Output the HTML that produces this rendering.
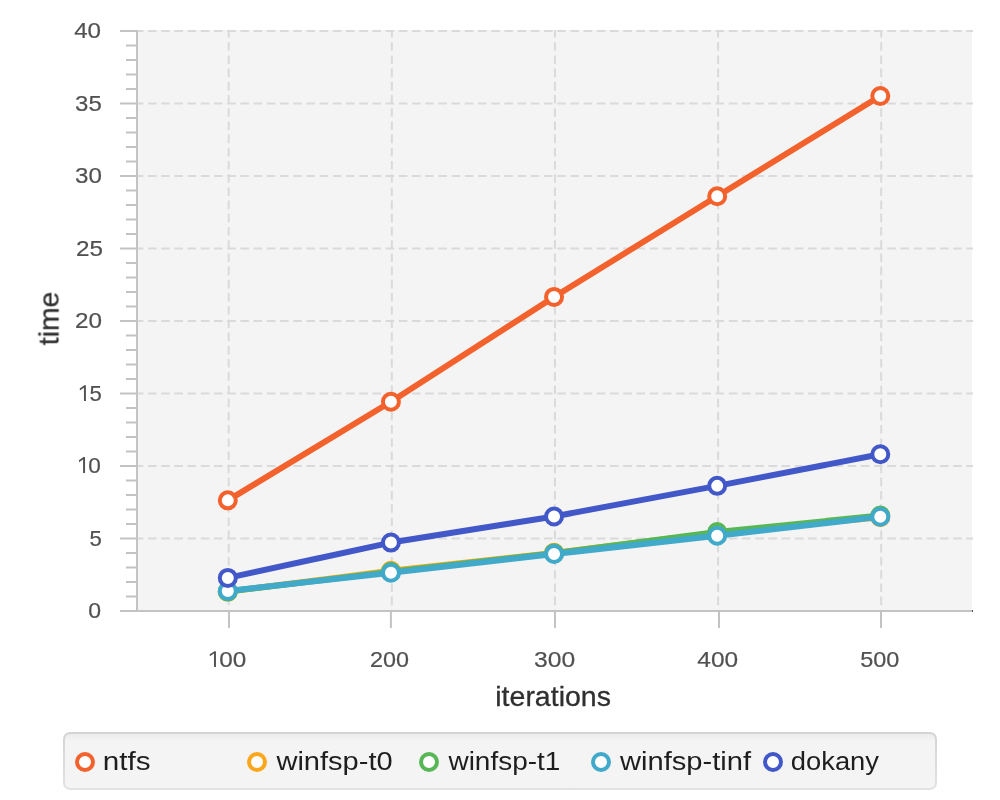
<!DOCTYPE html><html><head><meta charset="utf-8"><style>html,body{margin:0;padding:0;background:#fff;width:1000px;height:800px;overflow:hidden}svg{display:block}text{font-family:"Liberation Sans",sans-serif}</style></head><body>
<svg width="1000" height="800" viewBox="0 0 1000 800">
<rect x="138" y="30" width="834" height="580" fill="#f4f4f4"/>
<line x1="138" y1="538.50" x2="973" y2="538.50" stroke="#dadada" stroke-width="2" stroke-dasharray="8.6 4.6" stroke-dashoffset="3.2"/>
<line x1="138" y1="466.00" x2="973" y2="466.00" stroke="#dadada" stroke-width="2" stroke-dasharray="8.6 4.6" stroke-dashoffset="3.2"/>
<line x1="138" y1="393.50" x2="973" y2="393.50" stroke="#dadada" stroke-width="2" stroke-dasharray="8.6 4.6" stroke-dashoffset="3.2"/>
<line x1="138" y1="321.00" x2="973" y2="321.00" stroke="#dadada" stroke-width="2" stroke-dasharray="8.6 4.6" stroke-dashoffset="3.2"/>
<line x1="138" y1="248.50" x2="973" y2="248.50" stroke="#dadada" stroke-width="2" stroke-dasharray="8.6 4.6" stroke-dashoffset="3.2"/>
<line x1="138" y1="176.00" x2="973" y2="176.00" stroke="#dadada" stroke-width="2" stroke-dasharray="8.6 4.6" stroke-dashoffset="3.2"/>
<line x1="138" y1="103.50" x2="973" y2="103.50" stroke="#dadada" stroke-width="2" stroke-dasharray="8.6 4.6" stroke-dashoffset="3.2"/>
<line x1="138" y1="31.00" x2="973" y2="31.00" stroke="#dadada" stroke-width="2" stroke-dasharray="8.6 4.6" stroke-dashoffset="3.2"/>
<line x1="228.70" y1="30" x2="228.70" y2="610" stroke="#dadada" stroke-width="2" stroke-dasharray="8.6 4.6" stroke-dashoffset="1"/>
<line x1="391.82" y1="30" x2="391.82" y2="610" stroke="#dadada" stroke-width="2" stroke-dasharray="8.6 4.6" stroke-dashoffset="1"/>
<line x1="554.95" y1="30" x2="554.95" y2="610" stroke="#dadada" stroke-width="2" stroke-dasharray="8.6 4.6" stroke-dashoffset="1"/>
<line x1="718.08" y1="30" x2="718.08" y2="610" stroke="#dadada" stroke-width="2" stroke-dasharray="8.6 4.6" stroke-dashoffset="1"/>
<line x1="881.20" y1="30" x2="881.20" y2="610" stroke="#dadada" stroke-width="2" stroke-dasharray="8.6 4.6" stroke-dashoffset="1"/>
<rect x="136" y="30" width="2" height="582" fill="#c3c3c3"/>
<rect x="120" y="610" width="853" height="2" fill="#c3c3c3"/>
<rect x="972" y="610" width="1" height="2" fill="#555"/>
<rect x="120" y="610.00" width="16" height="2" fill="#c3c3c3"/>
<rect x="120" y="537.50" width="16" height="2" fill="#c3c3c3"/>
<rect x="120" y="465.00" width="16" height="2" fill="#c3c3c3"/>
<rect x="120" y="392.50" width="16" height="2" fill="#c3c3c3"/>
<rect x="120" y="320.00" width="16" height="2" fill="#c3c3c3"/>
<rect x="120" y="247.50" width="16" height="2" fill="#c3c3c3"/>
<rect x="120" y="175.00" width="16" height="2" fill="#c3c3c3"/>
<rect x="120" y="102.50" width="16" height="2" fill="#c3c3c3"/>
<rect x="120" y="30.00" width="16" height="2" fill="#c3c3c3"/>
<rect x="126" y="595.50" width="10" height="2" fill="#c3c3c3"/>
<rect x="126" y="581.00" width="10" height="2" fill="#c3c3c3"/>
<rect x="126" y="566.50" width="10" height="2" fill="#c3c3c3"/>
<rect x="126" y="552.00" width="10" height="2" fill="#c3c3c3"/>
<rect x="126" y="523.00" width="10" height="2" fill="#c3c3c3"/>
<rect x="126" y="508.50" width="10" height="2" fill="#c3c3c3"/>
<rect x="126" y="494.00" width="10" height="2" fill="#c3c3c3"/>
<rect x="126" y="479.50" width="10" height="2" fill="#c3c3c3"/>
<rect x="126" y="450.50" width="10" height="2" fill="#c3c3c3"/>
<rect x="126" y="436.00" width="10" height="2" fill="#c3c3c3"/>
<rect x="126" y="421.50" width="10" height="2" fill="#c3c3c3"/>
<rect x="126" y="407.00" width="10" height="2" fill="#c3c3c3"/>
<rect x="126" y="378.00" width="10" height="2" fill="#c3c3c3"/>
<rect x="126" y="363.50" width="10" height="2" fill="#c3c3c3"/>
<rect x="126" y="349.00" width="10" height="2" fill="#c3c3c3"/>
<rect x="126" y="334.50" width="10" height="2" fill="#c3c3c3"/>
<rect x="126" y="305.50" width="10" height="2" fill="#c3c3c3"/>
<rect x="126" y="291.00" width="10" height="2" fill="#c3c3c3"/>
<rect x="126" y="276.50" width="10" height="2" fill="#c3c3c3"/>
<rect x="126" y="262.00" width="10" height="2" fill="#c3c3c3"/>
<rect x="126" y="233.00" width="10" height="2" fill="#c3c3c3"/>
<rect x="126" y="218.50" width="10" height="2" fill="#c3c3c3"/>
<rect x="126" y="204.00" width="10" height="2" fill="#c3c3c3"/>
<rect x="126" y="189.50" width="10" height="2" fill="#c3c3c3"/>
<rect x="126" y="160.50" width="10" height="2" fill="#c3c3c3"/>
<rect x="126" y="146.00" width="10" height="2" fill="#c3c3c3"/>
<rect x="126" y="131.50" width="10" height="2" fill="#c3c3c3"/>
<rect x="126" y="117.00" width="10" height="2" fill="#c3c3c3"/>
<rect x="126" y="88.00" width="10" height="2" fill="#c3c3c3"/>
<rect x="126" y="73.50" width="10" height="2" fill="#c3c3c3"/>
<rect x="126" y="59.00" width="10" height="2" fill="#c3c3c3"/>
<rect x="126" y="44.50" width="10" height="2" fill="#c3c3c3"/>
<rect x="228.00" y="612" width="2" height="16" fill="#c3c3c3"/>
<rect x="389.90" y="612" width="2" height="16" fill="#c3c3c3"/>
<rect x="554.00" y="612" width="2" height="16" fill="#c3c3c3"/>
<rect x="718.00" y="612" width="2" height="16" fill="#c3c3c3"/>
<rect x="880.00" y="612" width="2" height="16" fill="#c3c3c3"/>
<g style="opacity:0.995">
<text transform="matrix(1.0751 0 0 0.9918 74.14 37.68)" font-size="22.5" fill="#505050" stroke="#505050" stroke-width="0.2">40</text>
<text transform="matrix(1.0680 0 0 0.9793 75.09 110.58)" font-size="22.5" fill="#505050" stroke="#505050" stroke-width="0.2">35</text>
<text transform="matrix(1.0735 0 0 0.9981 75.08 182.78)" font-size="22.5" fill="#505050" stroke="#505050" stroke-width="0.2">30</text>
<text transform="matrix(1.0806 0 0 0.9856 75.98 255.58)" font-size="22.5" fill="#505050" stroke="#505050" stroke-width="0.2">25</text>
<text transform="matrix(1.0818 0 0 0.9918 74.88 327.78)" font-size="22.5" fill="#505050" stroke="#505050" stroke-width="0.2">20</text>
<text transform="matrix(0.9845 0 0 1.0060 89.41 545.77)" font-size="22.5" fill="#505050" stroke="#505050" stroke-width="0.2">5</text>
<text transform="matrix(1.0228 0 0 1.0044 88.20 617.67)" font-size="22.5" fill="#505050" stroke="#505050" stroke-width="0.2">0</text>
<path d="M85.05,457.10L85.05,473.00L83.10,473.00L83.10,459.50L79.05,462.20L78.90,460.20L83.55,457.10Z" fill="#505050"/>
<text transform="matrix(1.0042 0 0 0.9981 88.22 472.78)" font-size="22.5" fill="#505050" stroke="#505050" stroke-width="0.2">0</text>
<path d="M85.90,385.30L85.90,401.00L83.95,401.00L83.95,387.70L79.90,390.40L79.75,388.40L84.40,385.30Z" fill="#505050"/>
<text transform="matrix(0.9845 0 0 0.9933 89.41 400.78)" font-size="22.5" fill="#505050" stroke="#505050" stroke-width="0.2">5</text>
<path d="M215.94,651.20L215.94,667.00L213.99,667.00L213.99,653.60L209.94,656.30L209.79,654.30L214.44,651.20Z" fill="#505050"/>
<text transform="matrix(1.0789 0 0 1.0169 219.25 666.97)" font-size="22.5" fill="#505050" stroke="#505050" stroke-width="0.2">00</text>
<text transform="matrix(1.0386 0 0 0.9981 369.93 666.68)" font-size="22.5" fill="#505050" stroke="#505050" stroke-width="0.2">200</text>
<text transform="matrix(1.0978 0 0 1.0044 533.96 666.77)" font-size="22.5" fill="#505050" stroke="#505050" stroke-width="0.2">300</text>
<text transform="matrix(1.0876 0 0 1.0044 697.34 666.77)" font-size="22.5" fill="#505050" stroke="#505050" stroke-width="0.2">400</text>
<text transform="matrix(1.0433 0 0 1.0044 860.16 666.77)" font-size="22.5" fill="#505050" stroke="#505050" stroke-width="0.2">500</text>
<text transform="matrix(1.0554 0 0 0.9927 495.29 705.83)" font-size="27" fill="#2e2e2e" stroke="#2e2e2e" stroke-width="0.3">iterations</text>
<text transform="translate(58.32,345.23) rotate(-90) matrix(1.0504 0 0 1.0330 0 0)" font-size="27" fill="#2e2e2e" stroke="#2e2e2e" stroke-width="0.3">time</text>
</g>
<polyline points="227.80,500.37 390.93,401.76 554.05,296.93 717.18,196.30 880.30,95.96" fill="none" stroke="#f3622d" stroke-width="6" stroke-linejoin="round"/>
<circle cx="227.80" cy="500.37" r="8" fill="#fff" stroke="#f3622d" stroke-width="4"/>
<circle cx="390.93" cy="401.76" r="8" fill="#fff" stroke="#f3622d" stroke-width="4"/>
<circle cx="554.05" cy="296.93" r="8" fill="#fff" stroke="#f3622d" stroke-width="4"/>
<circle cx="717.18" cy="196.30" r="8" fill="#fff" stroke="#f3622d" stroke-width="4"/>
<circle cx="880.30" cy="95.96" r="8" fill="#fff" stroke="#f3622d" stroke-width="4"/>
<polyline points="227.80,591.57 390.93,570.84 554.05,552.86 717.18,532.70 880.30,517.18" fill="none" stroke="#fba71b" stroke-width="6" stroke-linejoin="round"/>
<circle cx="227.80" cy="591.57" r="8" fill="#fff" stroke="#fba71b" stroke-width="4"/>
<circle cx="390.93" cy="570.84" r="8" fill="#fff" stroke="#fba71b" stroke-width="4"/>
<circle cx="554.05" cy="552.86" r="8" fill="#fff" stroke="#fba71b" stroke-width="4"/>
<circle cx="717.18" cy="532.70" r="8" fill="#fff" stroke="#fba71b" stroke-width="4"/>
<circle cx="880.30" cy="517.18" r="8" fill="#fff" stroke="#fba71b" stroke-width="4"/>
<polyline points="227.80,591.57 390.93,571.85 554.05,553.14 717.18,531.98 880.30,515.52" fill="none" stroke="#57b757" stroke-width="6" stroke-linejoin="round"/>
<circle cx="227.80" cy="591.57" r="8" fill="#fff" stroke="#57b757" stroke-width="4"/>
<circle cx="390.93" cy="571.85" r="8" fill="#fff" stroke="#57b757" stroke-width="4"/>
<circle cx="554.05" cy="553.14" r="8" fill="#fff" stroke="#57b757" stroke-width="4"/>
<circle cx="717.18" cy="531.98" r="8" fill="#fff" stroke="#57b757" stroke-width="4"/>
<circle cx="880.30" cy="515.52" r="8" fill="#fff" stroke="#57b757" stroke-width="4"/>
<polyline points="227.80,590.99 390.93,572.72 554.05,554.01 717.18,535.75 880.30,516.75" fill="none" stroke="#41a9c9" stroke-width="6" stroke-linejoin="round"/>
<circle cx="227.80" cy="590.99" r="8" fill="#fff" stroke="#41a9c9" stroke-width="4"/>
<circle cx="390.93" cy="572.72" r="8" fill="#fff" stroke="#41a9c9" stroke-width="4"/>
<circle cx="554.05" cy="554.01" r="8" fill="#fff" stroke="#41a9c9" stroke-width="4"/>
<circle cx="717.18" cy="535.75" r="8" fill="#fff" stroke="#41a9c9" stroke-width="4"/>
<circle cx="880.30" cy="516.75" r="8" fill="#fff" stroke="#41a9c9" stroke-width="4"/>
<polyline points="227.80,577.94 390.93,542.56 554.05,516.46 717.18,485.87 880.30,454.25" fill="none" stroke="#4258c9" stroke-width="6" stroke-linejoin="round"/>
<circle cx="227.80" cy="577.94" r="8" fill="#fff" stroke="#4258c9" stroke-width="4"/>
<circle cx="390.93" cy="542.56" r="8" fill="#fff" stroke="#4258c9" stroke-width="4"/>
<circle cx="554.05" cy="516.46" r="8" fill="#fff" stroke="#4258c9" stroke-width="4"/>
<circle cx="717.18" cy="485.87" r="8" fill="#fff" stroke="#4258c9" stroke-width="4"/>
<circle cx="880.30" cy="454.25" r="8" fill="#fff" stroke="#4258c9" stroke-width="4"/>
<defs><linearGradient id="lb" x1="0" y1="0" x2="0" y2="1"><stop offset="0" stop-color="#d4d4d4"/><stop offset="1" stop-color="#e2e2e2"/></linearGradient><linearGradient id="lf" x1="0" y1="0" x2="0" y2="1"><stop offset="0" stop-color="#ebebeb"/><stop offset="0.13" stop-color="#f4f4f4"/><stop offset="1" stop-color="#f4f4f4"/></linearGradient></defs>
<rect x="63" y="732" width="874" height="58" rx="7" ry="7" fill="url(#lb)"/>
<rect x="65" y="734" width="870" height="54" rx="5" ry="5" fill="url(#lf)"/>
<circle cx="85" cy="762" r="8" fill="#fff" stroke="#f3622d" stroke-width="4"/>
<text transform="matrix(1.1238 0 0 1 102.74 769.70)" font-size="26.4" fill="#1e1e1e">ntfs</text>
<circle cx="257" cy="762" r="8" fill="#fff" stroke="#fba71b" stroke-width="4"/>
<text transform="matrix(1.1011 0 0 1 276.43 769.70)" font-size="26.4" fill="#1e1e1e">winfsp-t0</text>
<circle cx="429" cy="762" r="8" fill="#fff" stroke="#57b757" stroke-width="4"/>
<text transform="matrix(1.0598 0 0 1 448.43 769.70)" font-size="26.4" fill="#1e1e1e">winfsp-t1</text>
<circle cx="601" cy="762" r="8" fill="#fff" stroke="#41a9c9" stroke-width="4"/>
<text transform="matrix(1.1034 0 0 1 620.03 769.70)" font-size="26.4" fill="#1e1e1e">winfsp-tinf</text>
<circle cx="773" cy="762" r="8" fill="#fff" stroke="#4258c9" stroke-width="4"/>
<text transform="matrix(1.0360 0 0 1 790.85 769.70)" font-size="26.4" fill="#1e1e1e">dokany</text>
</svg></body></html>
